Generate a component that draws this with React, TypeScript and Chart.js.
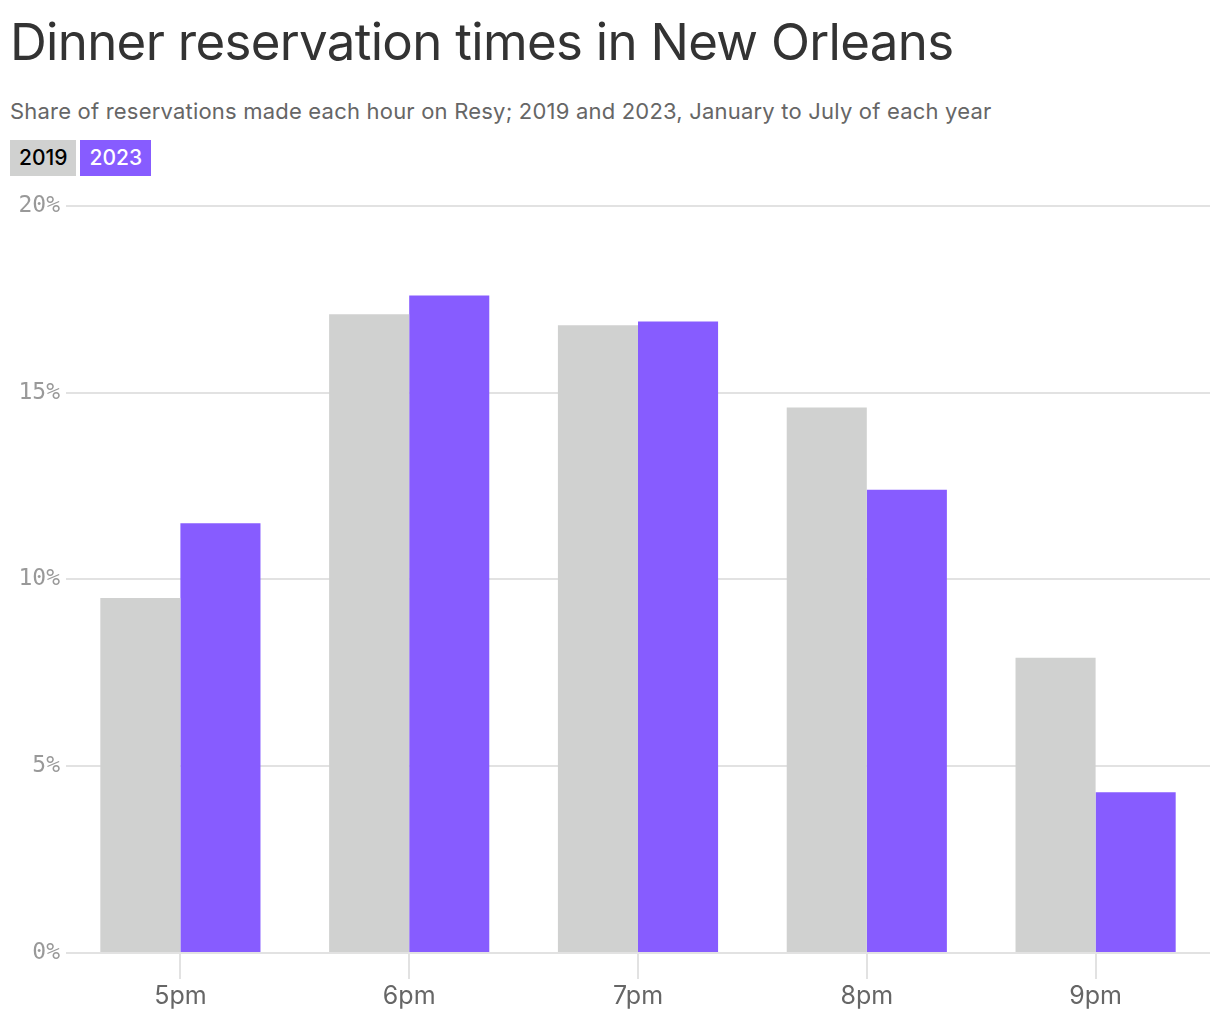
import { useEffect, useRef } from 'react';
import { Chart, registerables } from 'chart.js';

Chart.register(...registerables);

const hours = ['5pm', '6pm', '7pm', '8pm', '9pm'];
const share2019 = [9.5, 17.1, 16.8, 14.6, 7.9];
const share2023 = [11.5, 17.6, 16.9, 12.4, 4.3];
const yTicks = [0, 5, 10, 15, 20];

const GRAY = '#d0d1d0';
const PURPLE = '#875cff';

const ReservationChart = () => {
  const canvasRef = useRef<HTMLCanvasElement>(null);

  useEffect(() => {
    if (!canvasRef.current) return;
    const chart = new Chart(canvasRef.current, {
      type: 'bar',
      data: {
        labels: hours,
        datasets: [
          { label: '2019', data: share2019, backgroundColor: GRAY },
          { label: '2023', data: share2023, backgroundColor: PURPLE },
        ],
      },
      options: {
        animation: false,
        responsive: true,
        maintainAspectRatio: false,
        layout: { padding: { top: 14, right: 10, left: 0, bottom: 0 } },
        datasets: { bar: { categoryPercentage: 0.7, barPercentage: 1 } },
        plugins: {
          legend: { display: false },
          tooltip: { enabled: false },
        },
        scales: {
          x: {
            grid: {
              drawOnChartArea: false,
              drawTicks: true,
              tickLength: 26,
              offset: false,
              color: '#e2e2e2',
              lineWidth: 2,
            },
            border: { display: false },
            ticks: {
              color: '#666',
              padding: 2,
              font: { family: 'Inter, "Noto Sans", sans-serif', size: 25 },
            },
          },
          y: {
            min: 0,
            max: 20,
            afterBuildTicks: (axis) => {
              axis.ticks = yTicks.map((v) => ({ value: v }));
            },
            afterFit: (axis) => {
              axis.width = 66;
            },
            grid: { drawTicks: false, color: '#e2e2e2', lineWidth: 2 },
            border: { display: false },
            ticks: {
              color: '#999',
              padding: 6,
              font: { family: '"DejaVu Sans Mono", monospace', size: 23 },
              callback: (v) => `${v}%`,
            },
          },
        },
      },
    });
    return () => chart.destroy();
  }, []);

  return (
    <div style={{ position: 'relative', width: 1220, height: 827 }}>
      <canvas ref={canvasRef}></canvas>
    </div>
  );
};

export default function App() {
  useEffect(() => {
    document.body.style.margin = '0';
  }, []);

  const legendBox = (text: string, bg: string, fg: string) => (
    <span
      style={{
        display: 'inline-block',
        background: bg,
        color: fg,
        fontSize: 21,
        fontWeight: 500,
        lineHeight: '36px',
        height: 36,
        padding: '0 9px',
        marginRight: 4,
      }}
    >
      {text}
    </span>
  );

  return (
    <div style={{ width: 1220, height: 1020, background: '#fff', fontFamily: 'Inter, "Noto Sans", sans-serif', position: 'relative' }}>
      <div style={{ position: 'absolute', left: 10, top: 10, fontSize: 51, color: '#333', lineHeight: '64px', letterSpacing: -0.7 }}>
        Dinner reservation times in New Orleans
      </div>
      <div style={{ position: 'absolute', left: 10, top: 97, fontSize: 22, color: '#666', lineHeight: '28px', letterSpacing: 0.2 }}>
        Share of reservations made each hour on Resy; 2019 and 2023, January to July of each year
      </div>
      <div style={{ position: 'absolute', left: 10, top: 140, display: 'flex' }}>
        {legendBox('2019', GRAY, '#000')}
        {legendBox('2023', PURPLE, '#fff')}
      </div>
      <div style={{ position: 'absolute', left: 0, top: 186 }}>
        <ReservationChart />
      </div>
    </div>
  );
}
